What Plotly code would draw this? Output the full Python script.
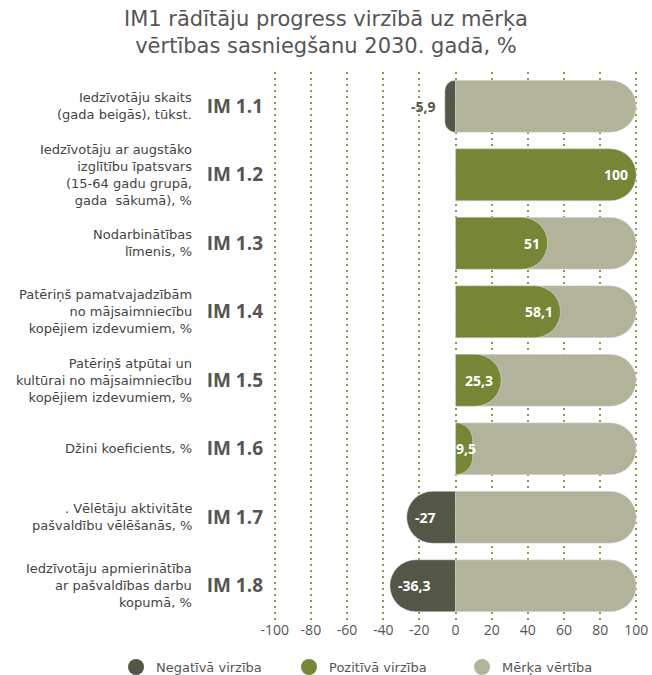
import plotly.graph_objects as go

# ---- data ----
codes = ["IM 1.1", "IM 1.2", "IM 1.3", "IM 1.4", "IM 1.5", "IM 1.6", "IM 1.7", "IM 1.8"]
descriptions = [
    "Iedzīvotāju skaits<br>(gada beigās), tūkst.",
    "Iedzīvotāju ar augstāko<br>izglītību īpatsvars<br>(15-64 gadu grupā,<br>gada  sākumā), %",
    "Nodarbinātības<br>līmenis, %",
    "Patēriņš pamatvajadzībām<br>no mājsaimniecību<br>kopējiem izdevumiem, %",
    "Patēriņš atpūtai un<br>kultūrai no mājsaimniecību<br>kopējiem izdevumiem, %",
    "Džini koeficients, %",
    ". Vēlētāju aktivitāte<br>pašvaldību vēlēšanās, %",
    "Iedzīvotāju apmierinātība<br>ar pašvaldības darbu<br>kopumā, %",
]
progress = [-5.9, 100, 51, 58.1, 25.3, 9.5, -27, -36.3]
target = [100, 100, 100, 100, 100, 100, 100, 100]
x_ticks = [-100, -80, -60, -40, -20, 0, 20, 40, 60, 80, 100]
legend_names = ["Negatīvā virzība", "Pozitīvā virzība", "Mērķa vērtība"]
title_text = "IM1 rādītāju progress virzībā uz mērķa<br>vērtības sasniegšanu 2030. gadā, %"

# ---- styles ----
C_NEG = "#545746"
C_POS = "#758736"
C_TGT = "#b3b39b"
C_TXT = "#555555"
FONT = "Open Sans"
WIDE = "DejaVu Sans"

fig = go.Figure()
# target bars on the main axis (drawn first / below)
fig.add_trace(go.Bar(y=codes, x=target, orientation="h", marker_color=C_TGT,
                     width=0.76, offset=-0.38, showlegend=False, hoverinfo="skip",
                     xaxis="x", yaxis="y"))
# progress bars on an overlaying axis so each bar gets its own rounded tip
fig.add_trace(go.Bar(y=codes, x=progress, orientation="h",
                     marker_color=[C_NEG if v < 0 else C_POS for v in progress],
                     width=0.76, offset=-0.38, showlegend=False, hoverinfo="skip",
                     xaxis="x", yaxis="y2"))

for name, col in zip(legend_names, [C_NEG, C_POS, C_TGT]):
    fig.add_trace(go.Scatter(x=[None], y=[None], mode="markers", name=name,
                             marker=dict(color=col, size=18, symbol="circle")))

annotations = [dict(xref="paper", yref="paper", x=(326 - 272) / 367, y=1, yshift=12,
                    xanchor="center", yanchor="bottom", text=title_text, showarrow=False,
                    font=dict(family=WIDE, size=21, color=C_TXT))]

for code, desc in zip(codes, descriptions):
    annotations.append(dict(xref="paper", yref="y", x=-0.213, y=code, text=desc,
                            xanchor="right", yanchor="middle", align="right",
                            showarrow=False, font=dict(family=WIDE, size=13, color="#444444")))

vfont = dict(family=FONT, size=14, weight="bold")
for code, v in zip(codes, progress):
    label = ("%g" % v).replace(".", ",")
    if v < 0 and abs(v) < 10:
        annotations.append(dict(x=v, y=code, text=label, xanchor="right", xshift=-7,
                                showarrow=False, font=dict(vfont, color=C_NEG)))
    elif v < 0:
        annotations.append(dict(x=v, y=code, text=label, xanchor="left", xshift=6,
                                showarrow=False, font=dict(vfont, color="white")))
    elif v < 15:
        annotations.append(dict(x=0, y=code, text=label, xanchor="left", xshift=-2,
                                showarrow=False, font=dict(vfont, color="white")))
    else:
        annotations.append(dict(x=v, y=code, text=label, xanchor="right", xshift=-6,
                                showarrow=False, font=dict(vfont, color="white")))

yaxis_common = dict(categoryorder="array", categoryarray=codes, autorange="reversed",
                    showgrid=False, zeroline=False, ticks="")

fig.update_layout(
    width=652, height=675,
    margin=dict(l=272, r=13, t=72, b=55, autoexpand=False),
    paper_bgcolor="white", plot_bgcolor="white",
    barmode="overlay", barcornerradius=26,
    xaxis=dict(range=[-101.5, 101.5], tickvals=x_ticks, ticktext=[str(t) for t in x_ticks],
               showgrid=True, gridcolor="#8a9a48", gridwidth=2, griddash="2px,4px",
               zeroline=False, showline=False, ticks="",
               tickfont=dict(family=FONT, size=14, color=C_TXT), fixedrange=True),
    yaxis=dict(yaxis_common, ticklabelstandoff=8,
               tickfont=dict(family=FONT, size=19, color=C_TXT, weight="bold")),
    yaxis2=dict(yaxis_common, overlaying="y", visible=False),
    legend=dict(orientation="h", xref="paper", yref="paper", x=-0.425, y=-0.0858,
                xanchor="left", yanchor="middle", entrywidth=128, entrywidthmode="pixels",
                font=dict(family=WIDE, size=13, color=C_TXT)),
    annotations=annotations,
    showlegend=True,
)

fig.write_html("out.html")
